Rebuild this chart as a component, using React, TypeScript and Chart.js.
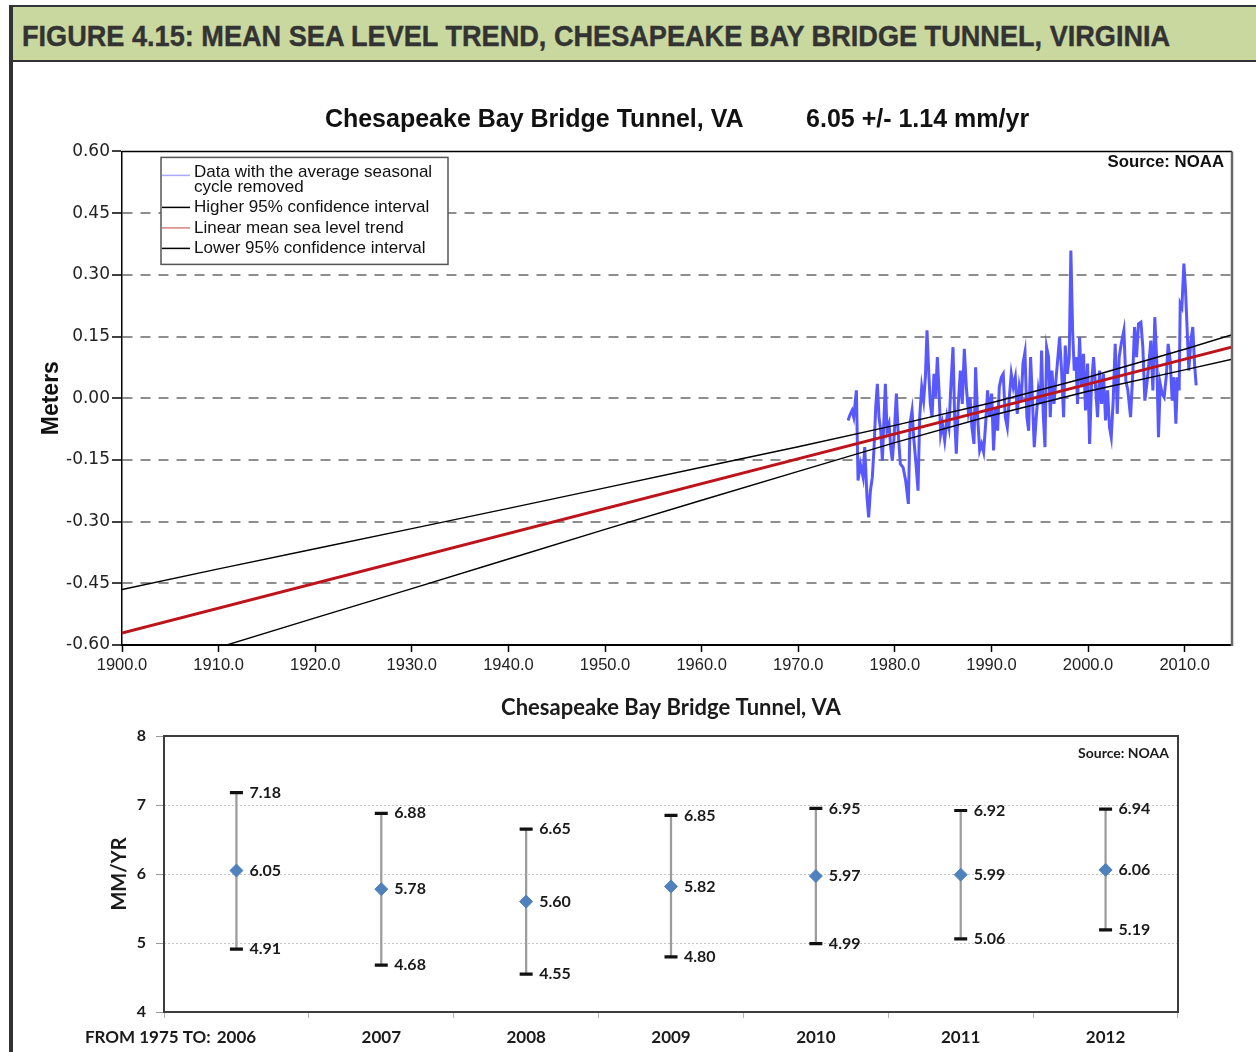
import React, { useEffect, useLayoutEffect, useRef, useState } from "react";
import { Chart, registerables } from "chart.js";

Chart.register(...registerables);

const SANS = '"Liberation Sans", Arial, Helvetica, sans-serif';
const WIDE = '"DejaVu Sans", Verdana, sans-serif';
const CAL = 'Lato, "Open Sans", sans-serif';

const FIGURE_TITLE = "FIGURE 4.15: MEAN SEA LEVEL TREND, CHESAPEAKE BAY BRIDGE TUNNEL, VIRGINIA";
const TOP_TITLE = "Chesapeake Bay Bridge Tunnel, VA         6.05 +/- 1.14 mm/yr";
const TOP_Y_TITLE = "Meters";
const SOURCE_TEXT = "Source: NOAA";
const BOTTOM_TITLE = "Chesapeake Bay Bridge Tunnel, VA";
const BOTTOM_Y_TITLE = "MM/YR";
const FROM_LABEL = "FROM 1975 TO:";

const legendLabels = [
  "Data with the average seasonal cycle removed",
  "Higher 95% confidence interval",
  "Linear mean sea level trend",
  "Lower 95% confidence interval",
];

// Monthly mean sea level (seasonal cycle removed) (metres)
const monthYears = [
  1975.16, 1975.33, 1975.57, 1975.74, 1976.02, 1976.19, 1976.43, 1976.71, 1976.88, 1977.12,
  1977.29, 1977.47, 1977.67, 1977.85, 1978.02, 1978.19, 1978.36, 1978.54, 1978.71, 1978.88,
  1979.02, 1979.19, 1979.40, 1979.57, 1979.74, 1979.92, 1980.16, 1980.33, 1980.57, 1980.85,
  1981.12, 1981.40, 1981.57, 1981.78, 1981.95, 1982.16, 1982.40, 1982.57, 1982.78, 1982.98,
  1983.16, 1983.33, 1983.50, 1983.67, 1983.85, 1984.05, 1984.22, 1984.40, 1984.57, 1984.74,
  1984.92, 1985.16, 1985.40, 1985.60, 1985.81, 1986.02, 1986.19, 1986.36, 1986.57, 1986.78,
  1986.98, 1987.19, 1987.40, 1987.60, 1987.78, 1987.98, 1988.19, 1988.36, 1988.57, 1988.78,
  1988.98, 1989.19, 1989.40, 1989.60, 1989.81, 1990.02, 1990.22, 1990.43, 1990.64, 1990.81,
  1991.02, 1991.22, 1991.43, 1991.64, 1991.85, 1992.05, 1992.26, 1992.47, 1992.67, 1992.88,
  1993.09, 1993.26, 1993.47, 1993.67, 1993.85, 1994.05, 1994.26, 1994.43, 1994.64, 1994.85,
  1995.05, 1995.19, 1995.36, 1995.54, 1995.71, 1995.91, 1996.09, 1996.26, 1996.47, 1996.67,
  1996.88, 1997.05, 1997.26, 1997.47, 1997.64, 1997.85, 1998.05, 1998.22, 1998.40, 1998.57,
  1998.74, 1998.91, 1999.12, 1999.33, 1999.53, 1999.74, 1999.95, 2000.16, 2000.36, 2000.57,
  2000.78, 2000.98, 2001.19, 2001.40, 2001.60, 2001.81, 2002.02, 2002.22, 2002.40, 2002.60,
  2002.81, 2003.02, 2003.22, 2003.43, 2003.71, 2003.91, 2004.12, 2004.40, 2004.64, 2004.81,
  2005.02, 2005.22, 2005.47, 2005.67, 2005.88, 2006.09, 2006.29, 2006.50, 2006.71, 2006.91,
  2007.12, 2007.29, 2007.47, 2007.67, 2007.88, 2008.09, 2008.29, 2008.50, 2008.71, 2008.91,
  2009.09, 2009.26, 2009.43, 2009.54, 2009.71, 2009.92, 2010.09, 2010.26, 2010.43, 2010.64,
  2010.84, 2011.02, 2011.19,
];
const monthValues = [
  -0.054, -0.042, -0.030, -0.046, 0.019, -0.200, -0.160, -0.192, -0.119, -0.241,
  -0.290, -0.225, -0.192, -0.119, -0.022, 0.035, -0.046, -0.079, -0.152, -0.046,
  0.035, -0.079, -0.062, -0.119, -0.152, -0.095, 0.011, -0.079, -0.160, -0.168,
  -0.200, -0.257, -0.062, -0.030, -0.095, -0.152, -0.225, -0.046, 0.027, -0.006,
  0.051, 0.165, 0.067, -0.014, -0.046, 0.059, 0.002, 0.100, 0.019, -0.087,
  -0.062, -0.103, -0.046, -0.071, 0.035, 0.124, -0.046, -0.135, -0.014, 0.067,
  -0.014, 0.120, 0.027, -0.030, 0.002, -0.071, -0.111, 0.075, -0.046, -0.127,
  -0.111, -0.131, -0.062, 0.019, -0.046, 0.011, -0.127, -0.022, -0.079, 0.027,
  0.051, 0.059, -0.046, -0.071, 0.002, 0.059, 0.027, 0.051, -0.038, 0.027,
  -0.006, 0.084, 0.112, -0.046, -0.079, 0.100, -0.014, -0.119, -0.046, 0.019,
  -0.014, 0.116, -0.038, -0.119, 0.124, 0.100, -0.046, 0.067, -0.014, 0.043,
  0.100, 0.148, 0.067, -0.046, 0.128, 0.059, 0.100, 0.359, 0.165, 0.067,
  0.100, -0.014, 0.148, 0.027, 0.108, -0.030, 0.084, -0.111, 0.035, 0.100,
  0.027, -0.046, 0.067, -0.014, 0.059, -0.054, 0.019, -0.071, -0.095, -0.006,
  0.132, -0.038, 0.100, 0.132, 0.165, 0.043, 0.019, -0.046, 0.067, 0.173,
  0.100, 0.181, 0.185, 0.124, -0.006, 0.035, 0.084, 0.140, 0.019, 0.197,
  0.084, -0.095, 0.035, 0.011, 0.002, 0.051, 0.132, 0.092, -0.006, 0.051,
  -0.062, 0.051, 0.019, 0.230, 0.221, 0.327, 0.262, 0.165, 0.067, 0.140,
  0.173, 0.084, 0.031,
];

// Linear trend (6.05 mm/yr)
const trendYears = [1900, 2015];
const trendValues = [-0.571, 0.125];

// 95% confidence curves
const ciYears = [1900, 1910, 1920, 1930, 1940, 1950, 1960, 1970, 1980, 1990, 2000, 2010, 2015];
const ciHigher = [-0.465, -0.415, -0.366, -0.317, -0.268, -0.218, -0.168, -0.118, -0.066, -0.011, 0.051, 0.119, 0.155];
const ciLower = [-0.678, -0.606, -0.534, -0.463, -0.391, -0.319, -0.248, -0.178, -0.108, -0.042, 0.017, 0.069, 0.095];

// Bottom chart: rate from 1975 to year N
const rateYears = ["2006", "2007", "2008", "2009", "2010", "2011", "2012"];
const rateMean = [6.05, 5.78, 5.6, 5.82, 5.97, 5.99, 6.06];
const rateHigh = [7.18, 6.88, 6.65, 6.85, 6.95, 6.92, 6.94];
const rateLow = [4.91, 4.68, 4.55, 4.8, 4.99, 5.06, 5.19];

function wrapText(ctx: CanvasRenderingContext2D, text: string, maxW: number): string[] {
  const words = text.split(" ");
  const lines: string[] = [];
  let cur = "";
  for (const w of words) {
    const test = cur ? cur + " " + w : w;
    if (ctx.measureText(test).width > maxW && cur) {
      lines.push(cur);
      cur = w;
    } else cur = test;
  }
  if (cur) lines.push(cur);
  return lines;
}

const topDecor = {
  id: "topDecor",
  afterDraw(chart: any) {
    const { ctx, chartArea } = chart;
    const { left, right, top, bottom } = chartArea;
    ctx.save();
    ctx.strokeStyle = "#000";
    ctx.lineWidth = 1.5;
    ctx.beginPath();
    ctx.moveTo(left, top);
    ctx.lineTo(right, top);
    ctx.stroke();
    ctx.strokeStyle = "#6a6a6a";
    ctx.lineWidth = 2.5;
    ctx.beginPath();
    ctx.moveTo(right, top);
    ctx.lineTo(right, bottom + 1);
    ctx.stroke();

    ctx.font = `bold 16.8px ${SANS}`;
    ctx.fillStyle = "#111";
    ctx.textAlign = "right";
    ctx.textBaseline = "middle";
    ctx.fillText(SOURCE_TEXT, right - 8, top + 11);

    // legend box
    const x0 = left + 39;
    const y0 = top + 6;
    const w = 287;
    const h = 107;
    ctx.fillStyle = "#fff";
    ctx.fillRect(x0, y0, w, h);
    ctx.strokeStyle = "#555";
    ctx.lineWidth = 1.5;
    ctx.strokeRect(x0, y0, w, h);
    ctx.font = `17px ${SANS}`;
    ctx.textAlign = "left";
    ctx.textBaseline = "middle";
    let y = y0 + 14.5;
    chart.data.datasets.forEach((ds: any) => {
      const lines = wrapText(ctx, ds.label, 250);
      const sy = lines.length > 1 ? y + 3.5 : y;
      ctx.strokeStyle = ds.legendColor || ds.borderColor;
      ctx.lineWidth = 1.5;
      ctx.beginPath();
      ctx.moveTo(x0 + 1, sy);
      ctx.lineTo(x0 + 29, sy);
      ctx.stroke();
      ctx.fillStyle = "#111";
      lines.forEach((l, i) => ctx.fillText(l, x0 + 33, y + i * 15));
      y += 20.5 + 15 * (lines.length - 1);
    });
    ctx.restore();
  },
};

const rateDecor = {
  id: "rateDecor",
  afterDraw(chart: any) {
    const { ctx, chartArea } = chart;
    const { left, right, top, bottom } = chartArea;
    ctx.save();
    ctx.font = `bold 16px ${CAL}`;
    ctx.fillStyle = "#1a1a1a";
    ctx.textAlign = "left";
    ctx.textBaseline = "middle";
    chart.data.datasets.forEach((ds: any, di: number) => {
      if (!ds.valueLabels) return;
      const meta = chart.getDatasetMeta(di);
      meta.data.forEach((el: any, i: number) => {
        ctx.fillText(Number(ds.data[i]).toFixed(2), el.x + 13, el.y);
      });
    });
    ctx.strokeStyle = "#3d3d3d";
    ctx.lineWidth = 2;
    ctx.strokeRect(left, top, right - left, bottom - top);

    ctx.font = `bold 14px ${CAL}`;
    ctx.textAlign = "right";
    ctx.fillText(SOURCE_TEXT, right - 9, top + 17);

    const xs = chart.scales.x;
    ctx.font = `bold 17px ${CAL}`;
    const w0 = ctx.measureText(rateYears[0]).width;
    ctx.fillText(FROM_LABEL, xs.getPixelForValue(0) - w0 / 2 - 6, xs.top + 6 + 9 + 10.2);
    ctx.restore();
  },
};

function TopChart() {
  const ref = useRef<HTMLCanvasElement>(null);
  useEffect(() => {
    const toXY = (xs: number[], ys: number[]) => xs.map((x, i) => ({ x, y: ys[i] }));
    const chart = new Chart(ref.current as HTMLCanvasElement, {
      type: "line",
      data: {
        datasets: [
          {
            label: legendLabels[0],
            data: toXY(monthYears, monthValues),
            borderColor: "#5858ff",
            borderWidth: 3,
            pointRadius: 0,
            order: 4,
            legendColor: "#a9a9ff",
          } as any,
          {
            label: legendLabels[1],
            data: toXY(ciYears, ciHigher),
            borderColor: "#000",
            borderWidth: 1.4,
            pointRadius: 0,
            order: 2,
          },
          {
            label: legendLabels[2],
            data: toXY(trendYears, trendValues),
            borderColor: "#bd141c",
            borderWidth: 3,
            pointRadius: 0,
            order: 1,
            legendColor: "#d98080",
          } as any,
          {
            label: legendLabels[3],
            data: toXY(ciYears, ciLower),
            borderColor: "#000",
            borderWidth: 1.4,
            pointRadius: 0,
            order: 3,
          },
        ],
      },
      options: {
        animation: false,
        responsive: true,
        maintainAspectRatio: false,
        layout: { padding: { left: 0, right: 24, top: 0, bottom: 0 } },
        plugins: {
          legend: { display: false },
          tooltip: { enabled: false },
          title: {
            display: true,
            text: TOP_TITLE,
            fullSize: false,
            color: "#111",
            font: { family: SANS, size: 25, weight: "bold" },
            padding: { top: 41, bottom: 16.4 },
          },
        },
        scales: {
          x: {
            type: "linear",
            min: 1900,
            max: 2014.9,
            afterFit: (s: any) => {
              s.height = 45;
            },
            ticks: {
              stepSize: 10,
              includeBounds: false,
              autoSkip: false,
              maxRotation: 0,
              padding: 4,
              color: "#222",
              font: { family: SANS, size: 16.5 },
              callback: (v: any) => Number(v).toFixed(1),
            },
            grid: {
              drawOnChartArea: false,
              drawTicks: true,
              tickLength: 7,
              tickColor: "#000",
              tickWidth: 1.5,
              color: "#000",
            },
            border: { display: true, color: "#000", width: 2 },
          },
          y: {
            type: "linear",
            min: -0.6,
            max: 0.6,
            afterFit: (s: any) => {
              s.width = 122;
            },
            ticks: {
              stepSize: 0.15,
              padding: 2,
              color: "#222",
              font: { family: WIDE, size: 17 },
              callback: (v: any) => {
                const n = Number(v);
                return (Math.abs(n) < 1e-9 ? 0 : n).toFixed(2);
              },
            },
            grid: {
              color: (c: any) => (c.tick && Math.abs(c.tick.value) > 0.59 ? "rgba(0,0,0,0)" : "#8e8e8e"),
              lineWidth: 2,
              tickLength: 10,
              tickColor: "#000",
              tickWidth: 1.5,
            },
            border: { display: true, color: "#000", width: 1.5, dash: [10, 8] },
            title: {
              display: true,
              text: TOP_Y_TITLE,
              color: "#111",
              font: { family: SANS, size: 23, weight: "bold" },
              padding: { top: 38, bottom: 0 },
            },
          },
        },
      },
      plugins: [topDecor],
    } as any);
    return () => chart.destroy();
  }, []);
  return (
    <div style={{ position: "absolute", left: 0, top: 64, width: 1256, height: 626 }}>
      <canvas ref={ref} />
    </div>
  );
}

function BottomChart() {
  const ref = useRef<HTMLCanvasElement>(null);
  useEffect(() => {
    const chart = new Chart(ref.current as HTMLCanvasElement, {
      type: "bar",
      data: {
        labels: rateYears,
        datasets: [
          {
            type: "line",
            label: "Rate (mm/yr)",
            data: rateMean,
            showLine: false,
            pointStyle: "rectRot",
            pointRadius: 6.5,
            pointBackgroundColor: "#4f81bd",
            pointBorderColor: "#4f81bd",
            pointBorderWidth: 1,
            order: 1,
            valueLabels: true,
          },
          {
            type: "line",
            label: "Upper 95%",
            data: rateHigh,
            showLine: false,
            pointStyle: "line",
            pointRadius: 6.5,
            pointBorderColor: "#111",
            pointBorderWidth: 3.2,
            order: 2,
            valueLabels: true,
          },
          {
            type: "line",
            label: "Lower 95%",
            data: rateLow,
            showLine: false,
            pointStyle: "line",
            pointRadius: 6.5,
            pointBorderColor: "#111",
            pointBorderWidth: 3.2,
            order: 3,
            valueLabels: true,
          },
          {
            type: "bar",
            label: "Range",
            data: rateLow.map((lo, i) => [lo, rateHigh[i]]),
            backgroundColor: "#9c9c9c",
            barThickness: 1.6,
            order: 4,
          },
        ],
      },
      options: {
        animation: false,
        responsive: true,
        maintainAspectRatio: false,
        layout: { padding: { left: 0, right: 78, top: 0, bottom: 0 } },
        plugins: {
          legend: { display: false },
          tooltip: { enabled: false },
          title: {
            display: true,
            text: BOTTOM_TITLE,
            fullSize: false,
            color: "#1a1a1a",
            font: { family: CAL, size: 22, weight: "bold" },
            padding: { top: 5, bottom: 14.6 },
          },
        },
        scales: {
          x: {
            afterFit: (s: any) => {
              s.height = 40;
            },
            grid: { drawOnChartArea: false, offset: true, tickLength: 6, color: "#b4b4b4" },
            border: { display: false },
            ticks: {
              font: { family: CAL, size: 17, weight: "bold" },
              color: "#1a1a1a",
              padding: 9,
              autoSkip: false,
              maxRotation: 0,
            },
          },
          y: {
            min: 4,
            max: 8,
            afterFit: (s: any) => {
              s.width = 164;
            },
            ticks: {
              stepSize: 1,
              font: { family: CAL, size: 16, weight: "bold" },
              color: "#1a1a1a",
              padding: 10,
            },
            grid: {
              color: (c: any) =>
                c.tick && (c.tick.value === 4 || c.tick.value === 8) ? "rgba(0,0,0,0)" : "#c4c4c4",
              tickColor: "#9a9a9a",
              tickLength: 8,
              lineWidth: 1,
            },
            border: { display: false, dash: [2, 2] },
            title: {
              display: true,
              text: BOTTOM_Y_TITLE,
              color: "#1a1a1a",
              font: { family: CAL, size: 20, weight: "bold" },
              padding: { top: 108, bottom: 0 },
            },
          },
        },
      },
      plugins: [rateDecor],
    } as any);
    return () => chart.destroy();
  }, []);
  return (
    <div style={{ position: "absolute", left: 0, top: 690, width: 1256, height: 362 }}>
      <canvas ref={ref} />
    </div>
  );
}

function HeaderText() {
  const ref = useRef<HTMLSpanElement>(null);
  const [sx, setSx] = useState(1);
  useLayoutEffect(() => {
    if (ref.current) {
      const w = ref.current.offsetWidth;
      if (w > 0) setSx(1148 / w);
    }
  }, []);
  return (
    <span
      ref={ref}
      style={{
        position: "absolute",
        left: 22,
        top: 10,
        fontFamily: SANS,
        fontWeight: 700,
        fontSize: 30,
        lineHeight: "52px",
        color: "#333",
        whiteSpace: "nowrap",
        WebkitTextStroke: "0.4px #333",
        transform: `scaleX(${sx})`,
        transformOrigin: "0 0",
      }}
    >
      {FIGURE_TITLE}
    </span>
  );
}

export default function App() {
  return (
    <div
      style={{
        position: "absolute",
        left: 0,
        top: 0,
        width: 1256,
        height: 1052,
        background: "#fff",
        overflow: "hidden",
      }}
    >
      <div
        style={{
          position: "absolute",
          left: 9,
          top: 5,
          width: 1247,
          height: 53,
          background: "#c9d89f",
          borderTop: "2px solid #333",
          borderBottom: "2.5px solid #333",
        }}
      />
      <HeaderText />
      <TopChart />
      <BottomChart />
      <div style={{ position: "absolute", left: 9, top: 5, width: 3.5, height: 1047, background: "#333" }} />
    </div>
  );
}
